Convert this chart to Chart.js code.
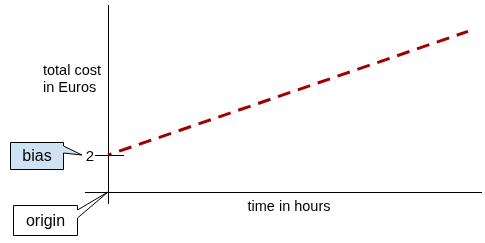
<!DOCTYPE html>
<html>
<head>
<meta charset="utf-8">
<script src="https://cdn.jsdelivr.net/npm/chart.js@4"></script>
<style>
  html, body { margin: 0; padding: 0; background: #fff; }
  #wrap { width: 485px; height: 243px; }
</style>
</head>
<body>
<div id="wrap"><canvas id="costChart" width="485" height="243"></canvas></div>
<script>
// chart values
const hours = [0, 10];
const cost = [2, 8.68];
const yTickValues = [2];
const yTickLabels = ['2'];
const xTitle = 'time in hours';
const yTitleLines = ['total cost', 'in Euros'];
const calloutLabels = ['bias', 'origin'];

const FONT = '"Liberation Sans", Arial, sans-serif';

// wedge-shaped callout box, tip given in pixels
function drawCallout(ctx, box, wedge, tip, fill, text) {
	ctx.save();
	ctx.beginPath();
	ctx.moveTo(box.x, box.y);
	ctx.lineTo(box.x + box.w, box.y);
	ctx.lineTo(box.x + box.w, wedge[0]);
	ctx.lineTo(tip.x, tip.y);
	ctx.lineTo(box.x + box.w, wedge[1]);
	ctx.lineTo(box.x + box.w, box.y + box.h);
	ctx.lineTo(box.x, box.y + box.h);
	ctx.closePath();
	ctx.fillStyle = fill;
	ctx.fill();
	ctx.strokeStyle = '#000';
	ctx.lineWidth = 1;
	ctx.stroke();
	ctx.fillStyle = '#000';
	ctx.font = '16px ' + FONT;
	ctx.textAlign = 'center';
	ctx.textBaseline = 'middle';
	ctx.fillText(text, box.x + box.w / 2, box.y + box.h / 2 + 1);
	ctx.restore();
}

const decorations = {
	id: 'decorations',
	afterDraw(chart) {
		const ctx = chart.ctx;
		const xs = chart.scales.x;
		const ys = chart.scales.y;
		const x0 = xs.getPixelForValue(0);
		const y0 = ys.getPixelForValue(0);

		ctx.save();
		// y ticks crossing the axis
		ctx.strokeStyle = '#000';
		ctx.lineWidth = 1;
		ctx.fillStyle = '#000';
		ctx.font = '15px ' + FONT;
		ctx.textAlign = 'right';
		ctx.textBaseline = 'middle';
		yTickValues.forEach((v, i) => {
			const py = Math.round(ys.getPixelForValue(v)) + 0.5;
			ctx.beginPath();
			ctx.moveTo(x0 - 13, py);
			ctx.lineTo(x0 + 16, py);
			ctx.stroke();
			ctx.fillText(yTickLabels[i], x0 - 14, py + 1);
		});

		// axis titles
		ctx.font = '14.5px ' + FONT;
		ctx.textAlign = 'left';
		yTitleLines.forEach((line, i) => {
			ctx.fillText(line, 43, 71 + i * 17);
		});
		ctx.textAlign = 'center';
		ctx.fillText(xTitle, 289, 207);
		ctx.restore();

		// callouts
		const biasY = ys.getPixelForValue(yTickValues[0]);
		drawCallout(ctx, {x: 10.5, y: 142.5, w: 53, h: 27}, [146, 153],
			{x: 82, y: biasY}, '#cfe2f3', calloutLabels[0]);
		drawCallout(ctx, {x: 13.5, y: 205.5, w: 64, h: 30}, [210, 218],
			{x: x0, y: y0}, '#ffffff', calloutLabels[1]);
	}
};

new Chart(document.getElementById('costChart'), {
	type: 'line',
	data: {
		datasets: [{
			data: hours.map((h, i) => ({x: h, y: cost[i]})),
			borderColor: '#a00000',
			borderWidth: 3,
			borderDash: [13, 8],
			borderDashOffset: 9.3,
			borderCapStyle: 'butt',
			pointRadius: 0,
			fill: false,
			tension: 0
		}]
	},
	options: {
		responsive: false,
		animation: false,
		events: [],
		layout: { padding: { left: 85, right: 3, top: 5, bottom: 39 } },
		plugins: { legend: { display: false }, tooltip: { enabled: false } },
		scales: {
			x: {
				type: 'linear',
				min: -23 / 36,
				max: 374 / 36,
				afterBuildTicks: axis => { axis.ticks = [{value: 0}]; },
				ticks: { display: false },
				border: { display: false },
				grid: { drawTicks: false, color: '#000', lineWidth: 1 }
			},
			y: {
				type: 'linear',
				min: -12 / 18.5,
				max: 187 / 18.5,
				afterBuildTicks: axis => { axis.ticks = [{value: 0}]; },
				ticks: { display: false },
				border: { display: false },
				grid: { drawTicks: false, color: '#000', lineWidth: 1 }
			}
		}
	},
	plugins: [decorations]
});
</script>
</body>
</html>
